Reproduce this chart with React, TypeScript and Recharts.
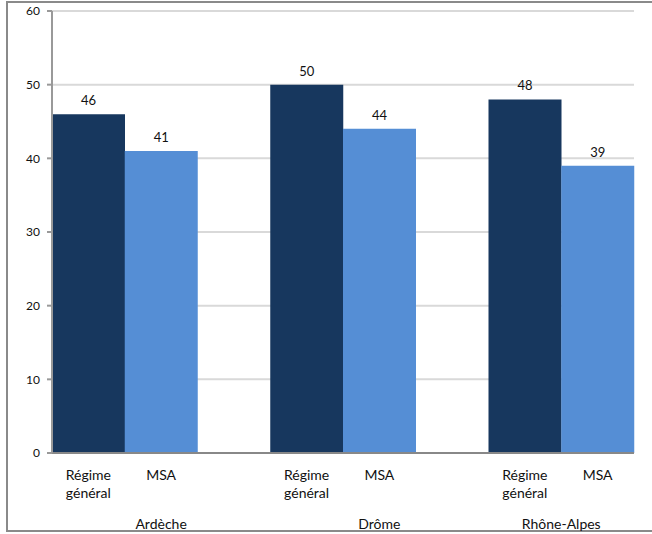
import React from "react";
import { BarChart, Bar, XAxis, YAxis, CartesianGrid, Cell, LabelList } from "recharts";

// one bar per category, blanks keep the space between the departments
const categories = ["Régime général", "MSA", "", "Régime général", "MSA", "", "Régime général", "MSA"];
const groups = ["Ardèche", "Ardèche", "Ardèche", "Drôme", "Drôme", "Drôme", "Rhône-Alpes", "Rhône-Alpes"];
const values = [46, 41, null, 50, 44, null, 48, 39];
const yTicks = [0, 10, 20, 30, 40, 50, 60];

const colors: any = { "Régime général": "#17375E", MSA: "#558ED5" };

const data = categories.map((c, i) => ({
  id: "c" + i,
  name: c,
  group: groups[i],
  value: values[i],
}));

const FONT = "Lato, 'Open Sans', sans-serif";

const CategoryTick = (props: any) => {
  const { x, y, payload } = props;
  const i = payload.index;
  const row = data[i];
  const half = payload.offset || 36.4;
  const words = row.name ? row.name.split(" ") : [];
  let groupLabel = null;
  if (i === 0 || data[i - 1].group !== row.group) {
    let span = 0;
    while (i + span < data.length && data[i + span].group === row.group) span++;
    groupLabel = (
      <text x={x + (span - 1) * half} y={y + 76} textAnchor="middle" fontSize={14} fill="#111" fontFamily={FONT}>
        {row.group}
      </text>
    );
  }
  return (
    <g>
      {words.map((w: string, k: number) => (
        <text key={k} x={x} y={y + 27 + k * 18} textAnchor="middle" fontSize={14} fill="#111" fontFamily={FONT}>
          {w}
        </text>
      ))}
      {groupLabel}
    </g>
  );
};

const App = () => {
  return (
    <div style={{ position: "absolute", left: 0, top: 0, width: 652, height: 534, background: "#fff" }}>
      <div
        style={{
          position: "absolute",
          left: 6,
          top: 1,
          width: 646,
          height: 531,
          borderLeft: "2px solid #8a8a8a",
          borderTop: "2px solid #8a8a8a",
          borderBottom: "2px solid #8a8a8a",
          boxSizing: "border-box",
        }}
      />
      <div style={{ position: "absolute", left: 0, top: 0 }}>
        <BarChart
          width={652}
          height={534}
          data={data}
          margin={{ top: 11, right: 18, left: 0, bottom: 0 }}
          barCategoryGap={0}
        >
          <CartesianGrid vertical={false} stroke="#d9d9d9" strokeWidth={2} />
          <XAxis
            dataKey="id"
            interval={0}
            height={81}
            tickLine={false}
            tickSize={0}
            tickMargin={0}
            axisLine={{ stroke: "#888", strokeWidth: 2 }}
            tick={<CategoryTick />}
          />
          <YAxis
            width={52}
            domain={[0, 60]}
            ticks={yTicks}
            tickSize={5}
            tickMargin={7}
            axisLine={{ stroke: "#999", strokeWidth: 2 }}
            tickLine={{ stroke: "#999", strokeWidth: 2 }}
            tick={{ fontSize: 12, fill: "#111", fontFamily: FONT }}
          />
          <Bar dataKey="value" isAnimationActive={false}>
            {data.map((d, i) => (
              <Cell key={i} fill={colors[d.name] || "#fff"} />
            ))}
            <LabelList
              dataKey="value"
              position="top"
              offset={9}
              fontSize={13}
              fill="#111"
              fontFamily={FONT}
              formatter={(v: any) => (v == null ? "" : v)}
            />
          </Bar>
        </BarChart>
      </div>
    </div>
  );
};

export default App;
